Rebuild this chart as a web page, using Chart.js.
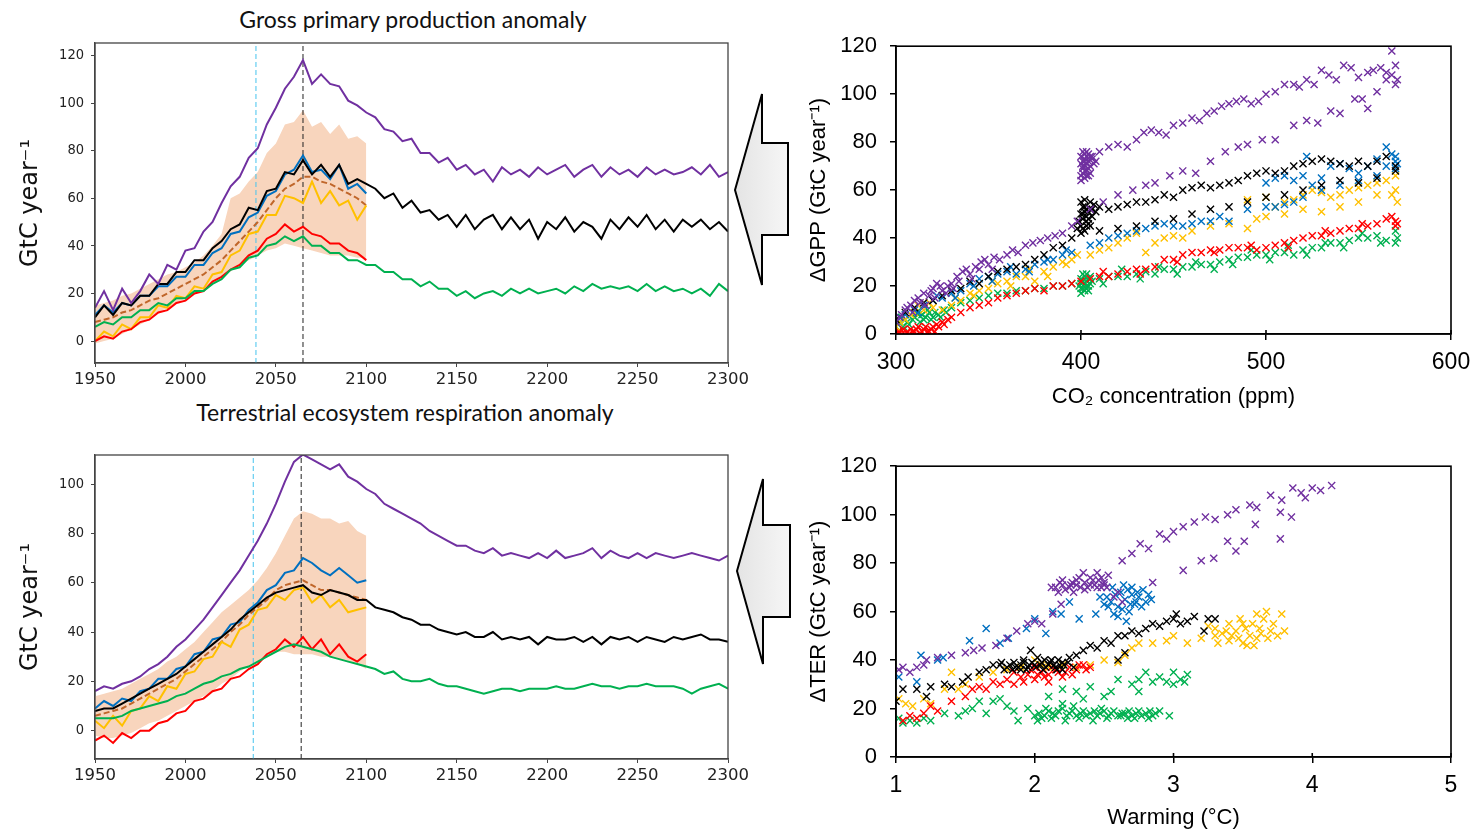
<!DOCTYPE html>
<html>
<head>
<meta charset="utf-8">
<script src="https://cdn.jsdelivr.net/npm/chart.js@4.4.1/dist/chart.umd.min.js"></script>
<style>
  body { margin:0; background:#fff; width:1474px; height:835px; position:relative; overflow:hidden; }
  canvas { position:absolute; }
  .ttl { position:absolute; font-family:Lato, "Open Sans", sans-serif; font-size:23px; color:#111; white-space:nowrap; transform:translateX(-50%); }
  svg { position:absolute; left:0; top:0; pointer-events:none; }
</style>
</head>
<body>
<div class="ttl" style="left:413px; top:5px">Gross primary production anomaly</div>
<div class="ttl" style="left:405px; top:398px">Terrestrial ecosystem respiration anomaly</div>

<canvas id="gpp" width="760" height="400" style="left:0; top:0"></canvas>
<canvas id="ter" width="760" height="400" style="left:0; top:400px"></canvas>
<canvas id="gppco2" width="684" height="400" style="left:790px; top:20px"></canvas>
<canvas id="terwarm" width="684" height="395" style="left:790px; top:440px"></canvas>

<svg width="1474" height="835">
  <defs>
    <linearGradient id="ag" x1="0" y1="0" x2="1" y2="0">
      <stop offset="0" stop-color="#e4e4e4"/>
      <stop offset="1" stop-color="#f6f6f6"/>
    </linearGradient>
  </defs>
  <polygon points="735,190 762,94 762,143 788,143 788,235 762,235 762,285" fill="url(#ag)" stroke="#000" stroke-width="2"/>
  <polygon points="737,571 763,479 763,525 790,525 790,617 763,617 763,664" fill="url(#ag)" stroke="#000" stroke-width="2"/>
</svg>

<script>
// ---- time axis (5-year samples) ----
const years = Array.from({ length: 71 }, (_, i) => 1950 + 5 * i);
const yearTicks = [1950, 2000, 2050, 2100, 2150, 2200, 2250, 2300];
const gppYTicks = [0, 20, 40, 60, 80, 100, 120];
const terYTicks = [0, 20, 40, 60, 80, 100];

// ---- GPP anomaly (GtC/yr) ----
const gppPurple = [14,21,13,22,16,21,28,24,32,30,38,39,46,50,58,65,69,77,81,91,98,106,111,118,108,112,108,107,101,99,96,
  94,89,88,84,85,79,79,75,77,72,74,70,72,67,73,70,72,69,73,70,72,74,69,72,74,69,73,70,72,69,73,70,72,70,71,73,70,74,69,71];
const gppBlack = [10,15,11,16,15,19,19,24,24,29,29,34,34,39,42,47,49,56,55,63,64,71,70,76,70,74,69,74,66,68,66,
  64,60,62,56,59,54,55,51,53,48,53,47,51,53,47,52,47,51,43,50,47,52,46,50,48,43,51,47,52,48,53,47,51,46,51,48,51,47,50,46];
const gppGreen = [6,8,7,10,10,13,13,16,15,18,18,21,21,24,26,30,31,35,36,40,41,44,42,44,40,40,37,37,34,34,32,
  32,29,29,26,26,23,25,22,22,19,21,18,20,21,19,22,20,22,20,21,22,20,23,21,24,22,23,22,23,21,24,21,23,21,22,20,22,19,24,21];
const gppBlue = [11,15,12,16,15,19,19,23,23,27,27,32,32,37,39,45,46,52,54,61,63,70,72,78,71,72,68,74,64,66,62];
const gppYellow = [0,4,2,7,5,10,10,15,14,19,18,23,22,28,29,36,38,45,46,53,53,61,60,58,67,58,63,57,59,51,57];
const gppRed = [0,2,1,4,5,8,9,12,13,16,17,20,21,25,27,30,32,36,38,43,45,49,46,48,45,44,41,41,38,37,34];
const gppMean = [8,9,10,12,13,15,17,18,20,22,24,26,28,31,34,38,42,46,50,55,60,64,66,69,69,67,66,64,62,60,57];
const gppBandHi = [15,16,17,19,20,22,24,26,28,29,31,33,36,40,45,60,62,67,71,79,83,91,92,97,90,92,87,91,85,86,83];
const gppBandLo = [-1,0,1,3,5,7,9,12,14,16,18,20,22,25,27,30,32,34,36,38,39,41,40,39,38,37,36,36,36,35,35];
const gppMarks = [2039, 2065];

// ---- TER anomaly (GtC/yr) ----
const terPurple = [16,18,17,19,20,22,25,27,30,34,37,41,45,50,55,60,65,71,77,84,92,101,109,112,110,108,106,108,103,101,98,
  96,92,90,88,86,84,81,79,77,75,75,73,72,74,71,72,71,70,72,70,73,70,71,72,74,70,73,71,70,72,70,72,71,70,71,72,71,70,69,71];
const terBlack = [8,9,9,11,13,15,17,19,21,23,26,29,32,35,38,41,45,48,51,54,56,57,58,59,56,55,57,56,55,53,53,
  50,49,48,46,45,43,43,41,40,39,40,38,38,40,37,38,37,38,35,38,37,37,38,36,38,35,38,37,38,36,38,37,36,38,37,38,39,37,37,36];
const terGreen = [5,5,5,6,8,9,10,11,12,14,15,17,19,20,22,23,25,26,28,30,32,34,35,34,33,32,30,29,28,27,26,
  25,23,24,21,20,20,21,19,18,18,17,16,15,16,17,17,16,17,17,17,18,17,17,18,19,18,18,17,18,18,19,18,18,18,17,15,17,18,19,17];
const terBlue = [9,12,10,13,12,16,17,21,21,25,26,31,32,37,38,43,44,49,52,57,59,64,65,70,68,65,63,66,63,60,61];
const terYellow = [4,1,6,2,8,9,14,12,18,17,23,24,29,30,36,34,41,43,49,50,55,53,57,58,52,55,50,53,48,49,50];
const terRed = [-4,-2,-5,-1,-3,0,0,3,4,7,8,12,13,16,17,21,22,25,27,31,33,37,34,38,33,37,31,35,30,28,31];
const terMean = [6,7,8,9,11,13,15,17,19,21,24,27,30,33,36,40,43,47,50,53,57,59,60,61,59,57,57,56,55,54,53];
const terBandHi = [14,15,16,17,19,21,23,25,28,30,33,36,40,44,48,51,54,57,61,66,72,79,86,89,88,86,86,84,85,81,79];
const terBandLo = [-2,-3,-3,-2,-1,1,3,4,6,8,10,12,14,16,19,21,24,26,28,30,32,32,31,31,31,30,30,29,28,27,25];
const terMarks = [2037.5, 2064];

// ---- dGPP vs CO2 (ppm, GtC/yr) ----
const co2Ticks = [300, 400, 500, 600];
const sctYTicks = [0, 20, 40, 60, 80, 100, 120];
const co2Purple = [[300,5],[303,8],[305,10],[308,12],[310,14],[312,15],[315,17],[318,16],[320,19],[322,21],[325,18],[328,20],[330,21],[333,24],[336,26],[340,25],[343,28],[346,30],[350,29],[353,32],[356,31],[360,33],[363,35],[366,34],[370,37],[374,38],[378,39],[382,40],[386,41],[390,42],[395,45],[398,47],
  [302,7],[306,11],[309,9],[313,13],[316,12],[319,18],[321,15],[324,20],[327,17],[331,19],[334,22],[338,27],[341,23],[345,27],[348,31],[352,27],
  [405,52],[412,55],[420,58],[428,60],[435,62],[440,63],[448,66],[455,68],[462,67],[470,72],[478,76],[485,78],[490,79],[498,81],[505,81],[515,87],[522,89],[528,88],[535,93],[540,92],[548,98],[552,98],[555,94],[560,101],[565,106],[568,108],
  [402,72],[406,74],[410,76],[415,78],[420,79],[425,78],[430,81],[434,84],[438,85],[442,84],[446,83],[450,87],[455,88],[460,90],[464,89],[468,92],[472,93],[476,95],[480,96],[484,97],[488,98],[492,96],[496,97],[500,100],[505,101],[510,104],[515,104],[518,103],[522,106],[526,104],[530,110],[534,108],[538,106],[542,112],[546,111],[550,107],[555,109],[558,110],[562,111],[565,109],[568,118],[570,112],[571,106],[570,104],
  [400,66],[401,70],[402,73],[403,68],[404,75],[402,65],[401,72],[403,71],[404,69],[400,74],[405,67],[402,70],[403,74],[401,67],
  [400,64],[401,76],[402,68],[403,66],[404,72],[405,70],[406,73],[400,71],[401,69],[404,66],[405,74],[403,76],[402,75],[407,71],[408,72]];
const co2Black = [[300,6],[305,9],[310,11],[315,13],[320,14],[325,16],[330,18],[335,19],[340,22],[345,21],[350,24],[355,26],[360,27],[365,28],[370,29],[375,31],[380,33],[385,36],[390,37],[395,40],[398,44],
  [400,45],[401,50],[402,53],[403,47],[404,51],[400,55],[402,43],[403,49],[405,52],[401,48],[404,46],[406,52],[408,51],[410,53],
  [399,47],[400,50],[401,44],[402,56],[403,52],[404,48],[405,45],[406,49],[407,54],[402,51],[401,53],[403,45],[400,42],[405,55],
  [415,52],[420,53],[425,54],[430,55],[435,55],[440,56],[445,58],[450,57],[455,60],[460,61],[465,62],[470,61],[475,62],[480,63],[485,64],[490,66],[495,67],[500,68],[505,67],[510,68],[515,70],[520,71],[525,72],[530,73],[535,72],[540,71],[545,70],[550,72],[555,70],[560,72],[565,74],[570,70],
  [410,43],[420,44],[430,45],[440,47],[450,48],[460,50],[470,52],[480,53],[490,55],[500,57],[510,58],[520,60],[530,62],[540,64],[550,63],[560,65],[570,68]];
const co2Blue = [[300,5],[305,8],[310,10],[315,12],[320,14],[325,15],[330,17],[335,18],[340,21],[345,23],[350,24],[355,25],[360,26],[365,25],[370,27],[375,29],[380,30],[385,31],[390,33],[395,34],
  [302,7],[312,9],[322,16],[332,15],[342,20],[352,22],[362,28],[372,26],[382,31],[392,35],
  [405,37],[410,38],[415,40],[420,41],[425,42],[430,43],[435,44],[440,45],[445,46],[450,45],[455,45],[460,46],[465,47],[470,47],[475,49],[480,47],[490,52],[500,53],[505,53],[510,54],[515,55],[520,57],[530,60],[540,62],[550,64],[560,66],[565,70],[570,72],
  [500,63],[505,65],[510,66],[515,64],[520,66],[522,74],[525,62],[530,65],[535,70],[540,71],[545,69],[550,67],[555,70],[560,73],[565,78],[568,75],[570,74],[571,71],[570,69]];
const co2Yellow = [[300,3],[305,6],[310,9],[312,12],[315,10],[320,11],[325,10],[330,12],[335,14],[340,17],[345,18],[350,19],[355,21],[360,22],[365,24],[370,24],[375,22],[380,26],[385,28],[390,30],[395,31],
  [302,5],[308,8],[318,13],[332,15],[342,16],[352,22],[362,20],[372,27],[382,24],[392,29],[398,33],
  [405,33],[410,35],[415,36],[420,38],[425,40],[430,42],[435,34],[440,38],[445,40],[450,41],[455,40],[460,43],[470,45],[480,46],[490,44],[495,48],[500,49],[510,50],[520,52],[530,51],[540,53],[550,55],[560,58],[570,60],
  [490,56],[500,57],[505,53],[510,55],[515,56],[520,58],[525,60],[530,59],[535,57],[540,58],[545,60],[550,61],[555,62],[560,63],[565,64],[570,66],[571,55],[568,58]];
const co2Red = [[300,0],[302,1],[305,0],[308,2],[310,1],[312,3],[315,2],[318,1],[320,3],[322,4],[325,5],[328,6],[330,7],[335,9],[340,11],[345,12],[350,13],[355,15],[360,16],[365,17],[370,18],[375,19],[380,18],[385,20],[390,20],[395,21],
  [301,1],[303,0],[304,2],[306,1],[307,0],[309,1],[311,2],[313,0],[314,1],[316,3],[317,1],[319,2],[321,1],[323,3],[326,4],
  [400,22],[405,23],[410,24],[415,24],[420,25],[425,26],[430,27],[435,27],[440,28],[445,31],[450,31],[455,33],[460,34],[465,34],[470,35],[475,35],[480,36],[485,36],[490,36],[495,35],[500,36],[505,37],[510,38],[515,39],[520,40],[525,41],[530,41],[535,42],[540,43],[545,44],[550,44],[555,45],[560,46],[565,48],[570,47],[571,46],
  [412,26],[432,25],[452,30],[472,34],[492,37],[512,36],[532,43],[552,46],[568,49],[570,45]];
const co2Green = [[300,3],[302,5],[305,6],[307,4],[310,7],[312,8],[315,6],[318,9],[320,7],[323,8],[326,10],[330,11],[335,13],[340,14],[345,15],[350,16],[355,17],[360,17],[365,18],[370,18],[375,19],[380,19],[385,20],[390,20],[395,21],
  [301,4],[303,7],[304,3],[306,5],[309,6],[311,9],[313,5],[314,8],[316,7],[317,10],[319,6],[321,9],[324,7],[327,9],
  [400,19],[401,22],[402,24],[403,20],[404,23],[402,18],[400,23],[403,25],[405,21],
  [399,20],[400,21],[401,19],[402,21],[403,22],[404,20],[405,24],[406,22],[401,25],[404,18],[400,17],[403,19],
  [410,23],[415,24],[420,24],[425,24],[430,25],[435,26],[440,25],[445,27],[450,27],[455,28],[460,28],[465,29],[470,29],[475,30],[480,31],[485,32],[490,32],[495,33],[500,33],[505,34],[510,34],[515,33],[520,35],[525,36],[530,36],[535,38],[540,38],[545,39],[550,40],[555,40],[560,41],[565,39],[570,43],[571,40],[570,38],
  [412,21],[422,27],[432,23],[442,28],[452,25],[462,30],[472,27],[482,29],[492,35],[502,31],[512,37],[522,33],[532,38],[542,36],[552,42],[562,38]];

// ---- dTER vs warming (degC, GtC/yr) ----
const warmTicks = [1, 2, 3, 4, 5];
const wPurple = [[1.02,36],[1.05,37],[1.1,35],[1.15,37],[1.2,38],[1.22,40],[1.3,41],[1.4,42],[1.5,43],[1.56,44],[1.62,45],[1.72,46],[1.8,49],[1.87,52],[1.95,55],[2.0,56],[2.05,55],[2.13,59],[2.19,63],
  [2.12,70],[2.18,72],[2.22,69],[2.26,71],[2.3,73],[2.33,70],[2.36,72],[2.4,74],[2.43,71],[2.46,73],[2.5,72],[2.53,75],[2.2,71],[2.28,68],[2.38,70],[2.48,70],[2.35,76],
  [2.15,70],[2.2,73],[2.25,70],[2.3,71],[2.32,74],[2.36,69],[2.4,71],[2.42,73],[2.45,70],[2.48,74],[2.5,71],[2.52,70],[2.27,72],[2.17,68],[2.45,76],
  [2.57,66],[2.6,68],[2.63,64],[2.63,81],[2.7,84],[2.76,88],[2.82,86],[2.9,92],[2.95,90],[3.0,93],[3.07,95],[3.15,97],[3.23,99],[3.3,98],[3.39,100],[3.45,102],[3.55,104],[3.6,103],[3.7,108],[3.78,106],[3.86,111],[3.92,109],[4.0,111],[4.06,110],[4.14,112],[3.95,107],
  [2.85,72],[3.07,77],[3.2,81],[3.29,82],[3.39,89],[3.51,89],[3.59,96],[3.77,90],[3.77,101],[3.85,99],[3.45,85]];
const wBlue = [[1.02,33],[1.15,31],[1.18,42],[1.3,40],[1.34,41],[1.53,48],[1.65,53],[1.75,47],[1.81,49],[1.94,53],[2.0,57],[2.08,51],[2.13,60],[2.19,59],[2.25,64],[2.32,57],[2.44,59],[2.47,66],[2.5,63],[2.57,59],
  [2.52,66],[2.55,64],[2.6,62],[2.62,68],[2.65,65],[2.68,60],[2.7,67],[2.72,63],[2.75,66],[2.78,69],[2.8,64],[2.84,65],[2.6,58],[2.66,56],[2.7,70],[2.64,71],
  [2.53,62],[2.58,67],[2.63,61],[2.67,69],[2.73,64],[2.77,62],[2.82,67],[2.56,70],[2.69,63],[2.74,68]];
const wBlack = [[1.0,23],[1.05,28],[1.15,28],[1.22,25],[1.25,29],[1.35,30],[1.4,29],[1.48,31],[1.52,33],[1.6,35],[1.65,36],[1.7,38],
  [1.75,38],[1.8,37],[1.85,39],[1.9,38],[1.95,37],[2.0,38],[2.02,41],[2.05,39],[2.1,38],[2.15,37],[2.2,39],[1.78,36],[1.88,37],[1.98,39],[2.08,37],[2.18,38],[1.92,40],[2.12,40],
  [1.76,39],[1.82,38],[1.86,37],[1.92,39],[1.96,38],[2.01,37],[2.04,38],[2.07,40],[2.11,39],[2.14,38],[2.17,40],[2.21,38],[2.24,39],[2.28,37],[1.84,36],[1.94,36],[2.06,36],[2.16,36],
  [2.25,41],[2.3,42],[2.35,44],[2.4,46],[2.45,45],[2.5,48],[2.55,47],[2.6,50],[2.65,50],[2.7,52],[2.75,51],[2.8,53],[2.85,55],[2.9,54],[2.95,56],[3.0,57],[3.05,55],[3.1,56],[3.15,58],[3.25,57],[3.3,57],[3.22,52],[2.65,43],[2.6,40],[1.97,44],[1.9,36],[2.2,36],[3.02,59]];
const wYellow = [[1.02,24],[1.07,22],[1.12,21],[1.2,24],[1.25,22],[1.35,28],[1.4,35],[1.45,28],[1.5,30],[1.6,33],[1.7,35],[1.8,36],[1.9,37],[2.0,40],[2.05,38],[2.1,37],[2.2,38],[2.3,37],[2.4,38],[2.5,40],[2.6,39],[2.65,42],[2.7,45],[2.75,47],[2.85,47],[2.95,48],[3.0,50],[3.1,47],
  [3.2,49],[3.25,54],[3.3,53],[3.35,51],[3.4,48],[3.45,52],[3.5,55],[3.55,50],[3.6,49],[3.62,53],[3.65,57],[3.7,52],[3.75,50],[3.8,52],[3.6,59],[3.5,47],[3.4,55],[3.3,50],[3.58,46],[3.67,60],[3.78,59],
  [3.32,47],[3.38,52],[3.42,50],[3.47,49],[3.52,53],[3.57,55],[3.63,51],[3.68,49],[3.72,55],[3.48,57],[3.53,46]];
const wRed = [[1.05,15],[1.1,17],[1.15,16],[1.2,18],[1.25,21],[1.3,19],[1.4,23],[1.5,25],[1.55,28],[1.6,29],[1.65,28],[1.7,31],[1.75,30],[1.8,32],[1.85,30],[1.9,33],[1.95,34],[2.0,32],[2.05,35],[2.1,34],[2.15,36],[2.2,33],[2.25,37],[2.3,36],[2.35,38],[2.4,37],[1.85,35],[2.0,37],[2.1,31],
  [1.92,31],[1.97,36],[2.02,34],[2.07,33],[2.12,37],[2.17,35],[2.22,35],[2.27,34],[2.32,38],[2.37,36]];
const wGreen = [[1.02,16],[1.05,14],[1.1,15],[1.15,14],[1.2,16],[1.25,15],[1.35,18],[1.45,17],[1.5,19],[1.55,20],[1.6,23],[1.65,18],[1.7,23],[1.75,24],[1.8,21],[1.85,19],[1.88,15],[1.95,20],
  [2.0,17],[2.05,16],[2.1,19],[2.15,17],[2.2,20],[2.25,18],[2.3,17],[2.35,19],[2.4,18],[2.45,17],[2.5,19],[2.55,18],[2.6,17],[2.65,18],[2.7,17],[2.75,19],[2.8,18],[2.85,17],[2.9,19],[2.97,17],
  [2.02,15],[2.12,16],[2.22,15],[2.32,16],[2.42,15],[2.52,16],[2.62,17],[2.72,16],[2.82,16],[2.08,20],[2.28,21],[2.48,20],[2.68,19],
  [2.03,18],[2.07,17],[2.13,18],[2.17,19],[2.23,17],[2.27,19],[2.33,18],[2.37,17],[2.43,19],[2.47,18],[2.53,17],[2.57,19],[2.63,18],[2.67,16],[2.73,18],[2.77,17],[2.83,19],[2.87,18],
  [2.1,25],[2.2,28],[2.3,27],[2.4,29],[2.5,25],[2.55,27],[2.6,32],[2.7,30],[2.75,32],[2.8,35],[2.85,31],[2.9,33],[3.0,35],[3.05,32],[3.1,34],[3.0,30],[2.75,27],[2.2,22],[2.35,24],[2.95,31],[3.08,31]];

const C = { purple:"#7030a0", black:"#000000", blue:"#0070c0", yellow:"#ffc000", red:"#ff0000", green:"#00b050", brown:"#c0662a", band:"#f8d5bd", cyan:"#45c3ee" };

// box around the plot area, plus inward tick stubs on the x axis when asked
const framePlugin = {
  id: "frame",
  afterDraw(chart, args, o) {
    const { ctx, chartArea: a } = chart;
    ctx.save();
    ctx.strokeStyle = o.color; ctx.lineWidth = o.width;
    ctx.strokeRect(a.left, a.top, a.right - a.left, a.bottom - a.top);
    if (o.inner) {
      const xs = chart.scales.x;
      xs.ticks.forEach(t => {
        const px = xs.getPixelForValue(t.value);
        ctx.beginPath(); ctx.moveTo(px, a.bottom); ctx.lineTo(px, a.bottom - o.inner); ctx.stroke();
      });
    }
    ctx.restore();
  }
};

// fixed axis box; the end labels may hang into the layout padding
const fixX = (h) => (sc) => { sc.height = h; sc.paddingLeft = 0; sc.paddingRight = 0; };

const xy = (xs, vs) => vs.map((v, i) => ({ x: xs[i], y: v }));
const line = (vals, color, order, extra) => Object.assign({
  data: xy(years, vals), borderColor: color, borderWidth: 2, pointRadius: 0, tension: 0, fill: false, order
}, extra || {});
const vline = (x, ymin, ymax, color) => ({
  data: [{ x, y: ymin }, { x, y: ymax }], borderColor: color, borderWidth: 1, borderDash: [5, 3], pointRadius: 0, fill: false, order: 15
});

function timeChart(id, s, o) {
  return new Chart(document.getElementById(id), {
    type: "line",
    data: {
      datasets: [
        { data: xy(years, s.lo), borderWidth: 0, pointRadius: 0, fill: false, order: 21 },
        { data: xy(years, s.hi), borderWidth: 0, pointRadius: 0, backgroundColor: C.band, fill: "-1", order: 20 },
        vline(s.marks[0], o.min, o.max, C.cyan),
        vline(s.marks[1], o.min, o.max, "#222"),
        line(s.purple, C.purple, 0),
        line(s.green, C.green, 2),
        line(s.red, C.red, 3),
        line(s.mean, C.brown, 5, { borderDash: [6, 3] }),
        line(s.yellow, C.yellow, 4),
        line(s.blue, C.blue, 6),
        line(s.black, C.black, 1)
      ]
    },
    options: {
      responsive: false, animation: false,
      layout: { padding: { top: o.top, right: 32, left: 0, bottom: 0 } },
      plugins: { legend: { display: false }, tooltip: { enabled: false }, frame: { color: "#444", width: 1.3 } },
      scales: {
        x: {
          type: "linear", min: 1950, max: 2300,
          afterBuildTicks: sc => { sc.ticks = yearTicks.map(v => ({ value: v })); },
          afterFit: fixX(o.xh),
          grid: { drawOnChartArea: false, tickLength: 4, color: "#444" },
          border: { color: "#444", width: 1.3 },
          ticks: { font: { family: "DejaVu Sans", size: 16.5 }, color: "#222", padding: 3, maxRotation: 0, callback: v => String(v) }
        },
        y: {
          type: "linear", min: o.min, max: o.max,
          afterBuildTicks: sc => { sc.ticks = o.ticks.map(v => ({ value: v })); },
          afterFit: sc => { sc.width = 95; },
          grid: { drawOnChartArea: false, tickLength: 4, color: "#444" },
          border: { color: "#444", width: 1.3 },
          ticks: { font: { family: "'DejaVu Sans Condensed', 'DejaVu Sans'", size: 14.5 }, color: "#222", padding: 7, callback: v => String(v) },
          title: { display: true, text: "GtC year\u207B\u00B9", font: { family: "DejaVu Sans", size: 24 }, color: "#111", padding: { top: 16, bottom: 0 } }
        }
      }
    },
    plugins: [framePlugin]
  });
}

timeChart("gpp",
  { lo: gppBandLo, hi: gppBandHi, marks: gppMarks, purple: gppPurple, green: gppGreen, red: gppRed, mean: gppMean, yellow: gppYellow, blue: gppBlue, black: gppBlack },
  { min: -9.2, max: 125.2, ticks: gppYTicks, top: 43, xh: 37 });
timeChart("ter",
  { lo: terBandLo, hi: terBandHi, marks: terMarks, purple: terPurple, green: terGreen, red: terRed, mean: terMean, yellow: terYellow, blue: terBlue, black: terBlack },
  { min: -11.5, max: 111.8, ticks: terYTicks, top: 55, xh: 41 });

const pts = (arr) => arr.map(p => ({ x: p[0], y: p[1] }));
const sct = (arr, color) => ({ data: pts(arr), pointStyle: "crossRot", pointRadius: 5, borderColor: color, backgroundColor: color, pointBorderWidth: 1.4, showLine: false });

function scatterChart(id, sets, o) {
  return new Chart(document.getElementById(id), {
    type: "scatter",
    data: { datasets: sets },
    options: {
      responsive: false, animation: false,
      layout: { padding: { top: o.top, right: 23, left: 0, bottom: 0 } },
      plugins: { legend: { display: false }, tooltip: { enabled: false }, frame: { color: "#000", width: 1.6, inner: 4 } },
      scales: {
        x: {
          type: "linear", min: o.xmin, max: o.xmax,
          afterBuildTicks: sc => { sc.ticks = o.xticks.map(v => ({ value: v })); },
          afterFit: fixX(o.xh),
          grid: { drawOnChartArea: false, tickLength: 6, color: "#000", lineWidth: 1.5 },
          border: { color: "#000", width: 1.6 },
          ticks: { font: { family: "Liberation Sans", size: 23 }, color: "#000", padding: 9, maxRotation: 0, callback: v => String(v) },
          title: { display: true, text: o.xtitle, font: { family: "Liberation Sans", size: 22 }, color: "#000", padding: { top: 0, bottom: o.xtpad } }
        },
        y: {
          type: "linear", min: 0, max: 120,
          afterBuildTicks: sc => { sc.ticks = sctYTicks.map(v => ({ value: v })); },
          afterFit: sc => { sc.width = 106; },
          grid: { drawOnChartArea: false, tickLength: 6, color: "#000", lineWidth: 1.5 },
          border: { color: "#000", width: 1.6 },
          ticks: { font: { family: "Liberation Sans", size: 22 }, color: "#000", padding: 13, callback: v => String(v) },
          title: { display: true, text: o.ytitle, font: { family: "Liberation Sans", size: 22 }, color: "#000", padding: { top: 16, bottom: 0 } }
        }
      }
    },
    plugins: [framePlugin]
  });
}

scatterChart("gppco2",
  [sct(co2Purple, C.purple), sct(co2Black, C.black), sct(co2Blue, C.blue), sct(co2Yellow, C.yellow), sct(co2Red, C.red), sct(co2Green, C.green)],
  { top: 23, xmin: 300, xmax: 600, xticks: co2Ticks, xh: 86, xtpad: 10, xtitle: "CO\u2082 concentration (ppm)", ytitle: "\u0394GPP (GtC year\u207B\u00B9)" });
scatterChart("terwarm",
  [sct(wPurple, C.purple), sct(wBlue, C.blue), sct(wBlack, C.black), sct(wRed, C.red), sct(wYellow, C.yellow), sct(wGreen, C.green)],
  { top: 24, xmin: 1, xmax: 5, xticks: warmTicks, xh: 78, xtpad: 4, xtitle: "Warming (\u00B0C)", ytitle: "\u0394TER (GtC year\u207B\u00B9)" });
</script>
</body>
</html>
